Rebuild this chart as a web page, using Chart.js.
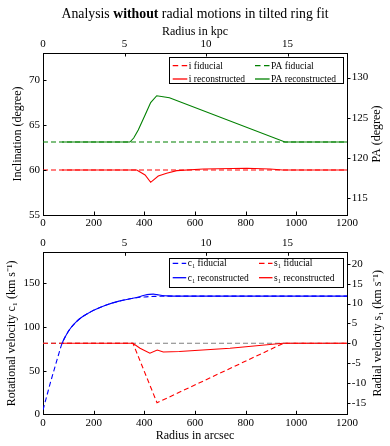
<!DOCTYPE html>
<html><head><meta charset="utf-8">
<script src="https://cdn.jsdelivr.net/npm/chart.js@4"></script>
<style>
html,body{margin:0;padding:0;background:#fff;width:390px;height:446px;overflow:hidden;position:relative}
canvas{display:block;position:absolute;left:0}
#c1{top:0}#c2{top:232px}
</style></head><body>
<canvas id="c1" width="390" height="232"></canvas>
<canvas id="c2" width="390" height="214"></canvas>
<script>
const FONT = "'Liberation Serif', 'Times New Roman', serif";

// ---- data (radius in arcsec) ----
const incFidR = [0, 1200];
const incFid = [60, 60];
const paFidR = [0, 1200];
const paFid = [122, 122];
const incRecR = [75, 370, 403, 425, 455, 488, 528, 633, 804, 896, 947, 1200];
const incRec = [60, 60, 59.44, 58.63, 59.33, 59.63, 59.93, 60.11, 60.19, 60.11, 60, 60];
const paRecR = [75, 343, 358, 376, 403, 425, 449, 499, 955, 1200];
const paRec = [122, 122, 122.5, 123.5, 125.35, 126.9, 127.75, 127.5, 122, 122];

const c1FidR = [0, 15, 30, 45, 60, 75, 90, 110, 130, 150, 175, 200, 250, 300, 350, 400, 450, 500, 600, 800, 1200];
const c1Fid = [5, 21, 37, 52, 67, 81, 90, 99, 105.5, 110.5, 115, 119, 125, 129.5, 132.5, 134.3, 135, 135.3, 135.3, 135.3, 135.3];
const c1RecR = [75, 90, 110, 130, 150, 175, 200, 250, 300, 350, 380, 400, 420, 435, 450, 470, 490, 550, 700, 900, 1200];
const c1Rec = [81, 90, 99, 105.5, 110.5, 115, 119, 125, 129.5, 132.5, 134.5, 136.2, 137.3, 137.5, 137, 136, 135.5, 135.3, 135.3, 135.3, 135.3];
const s1FidR = [0, 355, 450, 950, 1200];
const s1Fid = [0, 0, -15, 0, 0];
const s1RecR = [75, 355, 383, 422, 451, 475, 538, 738, 948, 1200];
const s1Rec = [0, 0, -1.27, -2.5, -1.7, -2.2, -2.1, -1.26, 0, 0];
const zeroR = [0, 1200];
const zeroV = [0, 0];

// ---- ticks ----
const arcsecTicks = [0, 200, 400, 600, 800, 1000, 1200];
const kpcTicks = [0, 5, 10, 15];
const incTicks = [55, 60, 65, 70];
const paTicks = [115, 120, 125, 130];
const c1Ticks = [0, 50, 100, 150];
const s1Ticks = [-15, -10, -5, 0, 5, 10, 15, 20];

const KPC_MAX = 18.65;
const pts = (xs, ys) => xs.map((x, i) => ({x, y: ys[i]}));
const DASH = [5, 3];

function line(label, xs, ys, color, dashed, axis, order, extra) {
  return Object.assign({
    label, data: pts(xs, ys), borderColor: color, backgroundColor: color,
    borderWidth: 1.1, borderDash: dashed ? DASH : [], pointRadius: 0, fill: false,
    yAxisID: axis, xAxisID: 'x', order, tension: 0
  }, extra || {});
}

function scale(pos, min, max, ticks, size, pad, title, axisExtra) {
  const horiz = pos === 'top' || pos === 'bottom';
  return Object.assign({
    type: 'linear', position: pos, min, max,
    afterBuildTicks: s => { s.ticks = ticks.map(v => ({value: v})); },
    afterFit: s => { if (horiz) s.height = size; else s.width = size; },
    grid: {display: false, drawOnChartArea: false, drawTicks: false},
    border: {display: true, color: '#000', width: 1},
    ticks: {padding: pad, color: '#000', autoSkip: false, maxRotation: 0,
      font: {family: FONT, size: 11}, callback: v => String(v)},
    title: title || {display: false}
  }, axisExtra || {});
}

const tickPlugin = {
  id: 'frameTicks',
  afterDraw(chart) {
    const ctx = chart.ctx, a = chart.chartArea, len = 3.5;
    ctx.save(); ctx.strokeStyle = '#000'; ctx.lineWidth = 1;
    Object.values(chart.scales).forEach(s => {
      s.ticks.forEach(t => {
        const p = Math.round(s.getPixelForValue(t.value)) + 0.5;
        ctx.beginPath();
        if (s.position === 'left') { ctx.moveTo(a.left, p); ctx.lineTo(a.left + len, p); }
        else if (s.position === 'right') { ctx.moveTo(a.right, p); ctx.lineTo(a.right + len, p); }
        else if (s.position === 'top') { ctx.moveTo(p, a.top); ctx.lineTo(p, a.top + len); }
        else { ctx.moveTo(p, a.bottom); ctx.lineTo(p, a.bottom - len); }
        ctx.stroke();
      });
    });
    ctx.restore();
  }
};

function legendPlugin(cfg) {
  return {
    id: 'boxLegend',
    afterDraw(chart) {
      const ctx = chart.ctx, a = chart.chartArea;
      const bx = a.right - cfg.dxRight - cfg.w, by = a.top + cfg.dyTop;
      ctx.save();
      ctx.fillStyle = '#fff'; ctx.strokeStyle = '#000'; ctx.lineWidth = 1;
      ctx.fillRect(bx, by, cfg.w, cfg.h);
      ctx.strokeRect(Math.round(bx) + 0.5, Math.round(by) + 0.5, Math.round(cfg.w), Math.round(cfg.h));
      ctx.font = cfg.font + 'px ' + FONT; ctx.textBaseline = 'middle'; ctx.textAlign = 'left';
      cfg.items.forEach(it => {
        const ds = chart.data.datasets[it.ds];
        const x0 = bx + cfg.cols[it.col], y = by + cfg.rows[it.row];
        ctx.strokeStyle = ds.borderColor; ctx.lineWidth = 1.3;
        ctx.setLineDash(ds.borderDash && ds.borderDash.length ? [5.5, 3.5] : []);
        ctx.beginPath(); ctx.moveTo(x0, y); ctx.lineTo(x0 + cfg.lineLen, y); ctx.stroke();
        ctx.setLineDash([]);
        ctx.fillStyle = '#000';
        ctx.fillText(ds.label, x0 + cfg.lineLen + 1.5, y + 0.5);
      });
      ctx.restore();
    }
  };
}

function rightTitle(text, x) {
  return {
    id: 'rightTitle',
    afterDraw(chart) {
      const ctx = chart.ctx, a = chart.chartArea;
      ctx.save();
      ctx.translate(x, (a.top + a.bottom) / 2);
      ctx.rotate(-Math.PI / 2);
      ctx.font = '12px ' + FONT; ctx.fillStyle = '#000';
      ctx.textAlign = 'center'; ctx.textBaseline = 'middle';
      ctx.fillText(text, 0, 0);
      ctx.restore();
    }
  };
}

const mainTitle = {
  id: 'mainTitle',
  afterDraw(chart) {
    const ctx = chart.ctx;
    const parts = [['Analysis ', false], ['without', true], [' radial motions in tilted ring fit', false]];
    const size = 13.8;
    ctx.save();
    ctx.fillStyle = '#000'; ctx.textBaseline = 'middle'; ctx.textAlign = 'left';
    let total = 0;
    const widths = parts.map(([t, b]) => { ctx.font = (b ? 'bold ' : '') + size + 'px ' + FONT; const w = ctx.measureText(t).width; total += w; return w; });
    let x = 195 - total / 2;
    parts.forEach(([t, b], i) => { ctx.font = (b ? 'bold ' : '') + size + 'px ' + FONT; ctx.fillText(t, x, 14); x += widths[i]; });
    ctx.restore();
  }
};

const common = {
  responsive: false, animation: false, devicePixelRatio: 1,
  layout: {padding: 0},
  plugins: {legend: {display: false}, tooltip: {enabled: false}, title: {display: false}}
};

// ---- top chart ----
new Chart(document.getElementById('c1'), {
  type: 'line',
  data: {datasets: [
    line('i fiducial', incFidR, incFid, '#ff0000', true, 'y', 2),
    line('PA fiducial', paFidR, paFid, '#008000', true, 'y2', 2),
    line('i reconstructed', incRecR, incRec, '#ff0000', false, 'y', 0),
    line('PA reconstructed', paRecR, paRec, '#008000', false, 'y2', 0)
  ]},
  options: Object.assign({}, common, {
    scales: {
      x: scale('bottom', 0, 1200, arcsecTicks, 17, 1.1),
      x2: scale('top', 0, KPC_MAX, kpcTicks, 53, 2.4,
        {display: true, text: 'Radius in kpc', color: '#000', font: {family: FONT, size: 12}, padding: {top: 24.8, bottom: 0}}),
      y: scale('left', 55, 73, incTicks, 43, 3,
        {display: true, text: 'Inclination (degree)', color: '#000', font: {family: FONT, size: 12}, padding: {top: 11.1, bottom: 0}}),
      y2: scale('right', 112.95, 133.05, paTicks, 43, 4.7)
    }
  }),
  plugins: [tickPlugin, mainTitle, rightTitle('PA (degree)', 376.7),
    legendPlugin({w: 173.7, h: 26, dxRight: 4.3, dyTop: 4.3, font: 9.5, lineLen: 14.6,
      cols: [3.7, 86], rows: [8.4, 21.7],
      items: [{ds: 0, col: 0, row: 0}, {ds: 1, col: 1, row: 0}, {ds: 2, col: 0, row: 1}, {ds: 3, col: 1, row: 1}]})]
});

// ---- bottom chart ----
new Chart(document.getElementById('c2'), {
  type: 'line',
  data: {datasets: [
    line('c\u2081 fiducial', c1FidR, c1Fid, '#0000ff', true, 'y', 2, {cubicInterpolationMode: 'monotone'}),
    line('s\u2081 fiducial', s1FidR, s1Fid, '#ff0000', true, 'y2', 2),
    line('c\u2081 reconstructed', c1RecR, c1Rec, '#0000ff', false, 'y', 0, {cubicInterpolationMode: 'monotone'}),
    line('s\u2081 reconstructed', s1RecR, s1Rec, '#ff0000', false, 'y2', 0),
    line('zero', zeroR, zeroV, '#808080', true, 'y2', 3)
  ]},
  options: Object.assign({}, common, {
    scales: {
      x: scale('bottom', 0, 1200, arcsecTicks, 31.7, 1.8,
        {display: true, text: 'Radius in arcsec', color: '#000', font: {family: FONT, size: 12}, padding: {top: 0, bottom: 2.8}}),
      x2: scale('top', 0, KPC_MAX, kpcTicks, 20.3, 2.4),
      y: scale('left', 0, 185.4, c1Ticks, 43, 3,
        {display: true, text: 'Rotational velocity c\u2081 (km s\u207B\u00B9)', color: '#000', font: {family: FONT, size: 12}, padding: {top: 5.1, bottom: 0}}),
      y2: scale('right', -17.9, 22.9, s1Ticks, 43, 4.7)
    }
  }),
  plugins: [tickPlugin, rightTitle('Radial velocity s\u2081 (km s\u207B\u00B9)', 377.7),
    legendPlugin({w: 173.7, h: 29, dxRight: 4.3, dyTop: 5.4, font: 9.5, lineLen: 13.5,
      cols: [3.7, 90], rows: [5.6, 20],
      items: [{ds: 0, col: 0, row: 0}, {ds: 1, col: 1, row: 0}, {ds: 2, col: 0, row: 1}, {ds: 3, col: 1, row: 1}]})]
});
</script>
</body></html>
